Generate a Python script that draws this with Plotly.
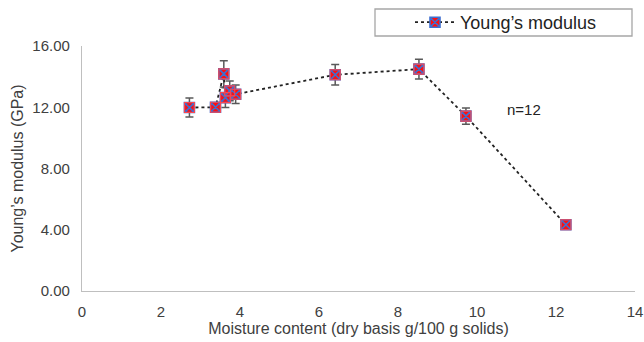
import plotly.graph_objects as go

# Data
moisture = [2.72, 3.38, 3.59, 3.63, 3.74, 3.89, 6.41, 8.53, 9.72, 12.25]
modulus = [11.98, 12.00, 14.18, 12.63, 13.07, 12.85, 14.12, 14.49, 11.42, 4.33]
modulus_err = [0.62, 0.30, 0.85, 0.65, 0.65, 0.60, 0.67, 0.64, 0.53, 0.12]
x_ticks = [0, 2, 4, 6, 8, 10, 12, 14]
y_ticks = [0, 4, 8, 12, 16]
y_tick_labels = ["0.00", "4.00", "8.00", "12.00", "16.00"]

FONT = "Liberation Sans, Arial, sans-serif"
TXT = "#404040"

L, R, T, B = 82, 9, 46, 51
PW = 644 - L - R
PH = 342 - T - B

fig = go.Figure()
fig.add_trace(go.Scatter(
    x=moisture, y=modulus, mode="lines+markers", name="Young\u2019s modulus",
    line=dict(color="#222222", width=1.8, dash="dot"),
    marker=dict(symbol="square-x", size=10, color="#FF1010",
                line=dict(color="#3F6FD0", width=1.6)),
    error_y=dict(type="data", array=modulus_err, visible=True,
                 color="#595959", thickness=1.5, width=4),
))
# reddish outline over the blue outline of the markers
fig.add_trace(go.Scatter(
    x=moisture, y=modulus, mode="markers", showlegend=False, hoverinfo="skip",
    marker=dict(symbol="square-open", size=10, color="rgba(250,70,80,1)",
                line=dict(width=1.1)),
))

fig.add_annotation(x=11.2, y=11.85, text="n=12", showarrow=False,
                   font=dict(family=FONT, size=15, color="#222222"))

# legend frame
fig.add_shape(type="rect", xref="paper", yref="paper",
              x0=(375 - L) / PW, x1=(632 - L) / PW,
              y0=1 + (T - 36) / PH, y1=1 + (T - 9) / PH,
              line=dict(color="#A6A6A6", width=1.3), fillcolor="white", layer="below")

fig.update_layout(
    width=644, height=342,
    margin=dict(l=L, r=R, t=T, b=B, autoexpand=False),
    paper_bgcolor="white", plot_bgcolor="white",
    font=dict(family=FONT, color=TXT, size=15),
    showlegend=True,
    legend=dict(x=(410 - L) / PW, xanchor="left", y=1 + (T - 22.5) / PH,
                yanchor="middle", bgcolor="rgba(0,0,0,0)", borderwidth=0,
                font=dict(family=FONT, size=18, color="#222222"),
                itemwidth=40),
    xaxis=dict(range=[0, 14], tickvals=x_ticks, showgrid=False, zeroline=False,
               showline=True, linecolor="#BFBFBF", linewidth=1.3, automargin=False,
               ticks="", ticklabelstandoff=7, ticklabeloverflow="allow",
               tickfont=dict(size=15, color=TXT),
               title=dict(text="Moisture content (dry basis g/100 g solids)",
                          font=dict(size=16, color=TXT), standoff=3)),
    yaxis=dict(range=[0, 16], tickvals=y_ticks, ticktext=y_tick_labels,
               showgrid=False, zeroline=False, automargin=False,
               showline=True, linecolor="#BFBFBF", linewidth=1.3,
               ticks="", ticklabelstandoff=8, ticklabeloverflow="allow",
               tickfont=dict(size=15, color=TXT),
               title=dict(text="Young\u2019s modulus (GPa)",
                          font=dict(size=16, color=TXT), standoff=4)),
)

fig.write_html(
    "out.html",
    config={"displayModeBar": False},
    post_script="document.body.style.margin='0px';document.body.style.overflow='hidden';",
)
